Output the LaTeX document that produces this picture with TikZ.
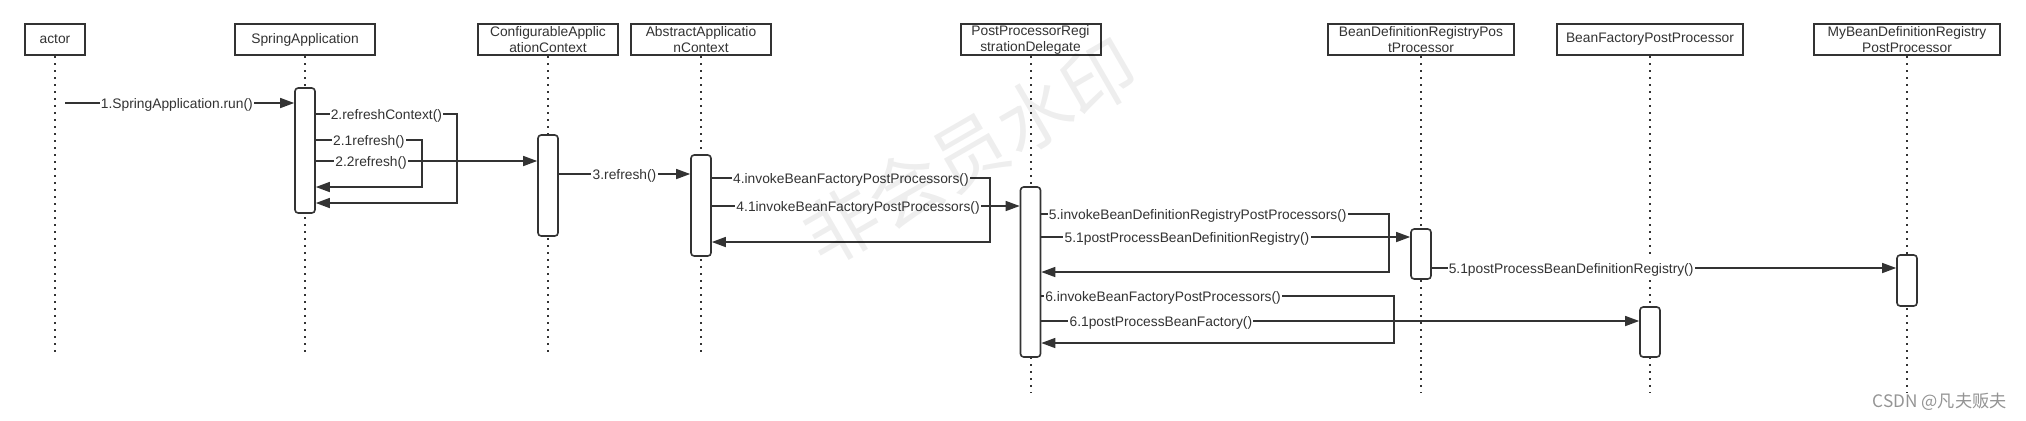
\documentclass[tikz,border=0pt]{standalone}
\usepackage{fontspec}
\setmainfont{Liberation Sans}
\newfontfamily\cjkfont{Noto Sans CJK SC}
\usetikzlibrary{arrows.meta}
\definecolor{ink}{HTML}{333333}
\begin{document}
\begin{tikzpicture}[x=0.5pt,y=-0.5pt,
  font=\fontsize{6.9pt}{8pt}\selectfont,
  lifebox/.style={draw=ink, line width=1pt, minimum width=#1, minimum height=15.5pt,
    inner sep=0pt, align=center, text=ink, fill=white},
  lifeline/.style={draw=ink, line width=1pt, dash pattern=on 1.2pt off 2.3pt},
  act/.style={draw=ink, line width=0.8pt, rounded corners=1.6pt, fill=white,
    minimum width=10pt, minimum height=#1, inner sep=0pt},
  msg/.style={draw=ink, line width=0.7pt, -{Triangle[length=7pt,width=5pt]}},
  lbl/.style={fill=white, inner sep=0.6pt, text=ink, text height=0.72em, text depth=0.2em}
]
\useasboundingbox (0,0) rectangle (2026,420);

% header boxes
\node[lifebox=30pt] (actor) at (55,39.5) {actor};
\node[lifebox=70pt] (sa) at (305,39.5) {SpringApplication};
\node[lifebox=70pt] (cac) at (548,39.5) {ConfigurableApplic\\ationContext};
\node[lifebox=70pt] (aac) at (701,39.5) {AbstractApplicatio\\nContext};
\node[lifebox=70pt] (pprd) at (1030.5,39.5) {PostProcessorRegi\\strationDelegate};
\node[lifebox=93pt] (bdrpp) at (1421,39.5) {BeanDefinitionRegistryPos\\tProcessor};
\node[lifebox=93pt] (bfpp) at (1650,39.5) {BeanFactoryPostProcessor};
\node[lifebox=93pt] (mybdrpp) at (1907,39.5) {MyBeanDefinitionRegistry\\PostProcessor};

% lifeline ends
\coordinate (actor-end) at (55,352);
\coordinate (sa-end) at (305,352);
\coordinate (cac-end) at (548,352);
\coordinate (aac-end) at (701,352);
\coordinate (pprd-end) at (1030.5,393);
\coordinate (bdrpp-end) at (1421,393);
\coordinate (bfpp-end) at (1650,393);
\coordinate (mybdrpp-end) at (1907,393);

\foreach \n in {actor,sa,cac,aac,pprd,bdrpp,bfpp,mybdrpp}
  \draw[lifeline] (\n.south) -- (\n-end);

% activations
\node[act=62.5pt] (asa) at (305,150.5) {};
\node[act=50.5pt] (acac) at (548,185.5) {};
\node[act=50.5pt] (aaac) at (701,205.5) {};
\node[act=85pt] (apprd) at (1030.5,272) {};
\node[act=25pt] (abdrpp) at (1421,254) {};
\node[act=25pt] (abfpp) at (1650,332) {};
\node[act=25.5pt] (amy) at (1907,280.5) {};

% messages
\coordinate (m1) at (65,103);
\draw[msg] (m1) -- node[lbl, pos=0.488] {1.SpringApplication.run()} (asa.west |- m1);

\coordinate (m2a) at (457,114);
\coordinate (m2b) at (457,203);
\draw[msg] (asa.east |- m2a) -- node[lbl] {2.refreshContext()} (m2a) -- (m2b) -- (asa.east |- m2b);

\coordinate (m21a) at (422,140);
\coordinate (m21b) at (422,187);
\draw[msg] (asa.east |- m21a) -- node[lbl] {2.1refresh()} (m21a) -- (m21b) -- (asa.east |- m21b);

\coordinate (m22) at (315,161);
\draw[msg] (asa.east |- m22) -- node[lbl, pos=0.25] {2.2refresh()} (acac.west |- m22);

\coordinate (m3) at (558,174);
\draw[msg] (acac.east |- m3) -- node[lbl] {3.refresh()} (aaac.west |- m3);

\coordinate (m4a) at (990,178);
\coordinate (m4b) at (990,242);
\draw[msg] (aaac.east |- m4a) -- node[lbl] {4.invokeBeanFactoryPostProcessors()} (m4a) -- (m4b) -- (aaac.east |- m4b);

\coordinate (m41) at (711,206);
\draw[msg] (aaac.east |- m41) -- node[lbl, pos=0.475] {4.1invokeBeanFactoryPostProcessors()} (apprd.west |- m41);

\coordinate (m5a) at (1389,214);
\coordinate (m5b) at (1389,272);
\draw[msg] (apprd.east |- m5a) -- node[lbl, pos=0.45] {5.invokeBeanDefinitionRegistryPostProcessors()} (m5a) -- (m5b) -- (apprd.east |- m5b);

\coordinate (m51) at (1041,237);
\draw[msg] (apprd.east |- m51) -- node[lbl, pos=0.395] {5.1postProcessBeanDefinitionRegistry()} (abdrpp.west |- m51);

\coordinate (m52) at (1432,268);
\draw[msg] (abdrpp.east |- m52) -- node[lbl, pos=0.30] {5.1postProcessBeanDefinitionRegistry()} (amy.west |- m52);

\coordinate (m6a) at (1394,296);
\coordinate (m6b) at (1394,343);
\draw[msg] (apprd.east |- m6a) -- node[lbl, pos=0.345] {6.invokeBeanFactoryPostProcessors()} (m6a) -- (m6b) -- (apprd.east |- m6b);

\coordinate (m61) at (1041,321);
\draw[msg] (apprd.east |- m61) -- node[lbl, pos=0.2] {6.1postProcessBeanFactory()} (abfpp.west |- m61);

% watermarks
\node[rotate=30, text=black, text opacity=0.065, inner sep=0pt,
  font=\cjkfont\fontsize{37pt}{37pt}\selectfont] (wm) at (970,152) {非会员水印};
\node[anchor=east, inner sep=0pt, text=black!42,
  font=\cjkfont\fontsize{8.6pt}{9pt}\selectfont] (csdn) at (2007,402) {CSDN @凡夫贩夫};
\end{tikzpicture}
\end{document}
